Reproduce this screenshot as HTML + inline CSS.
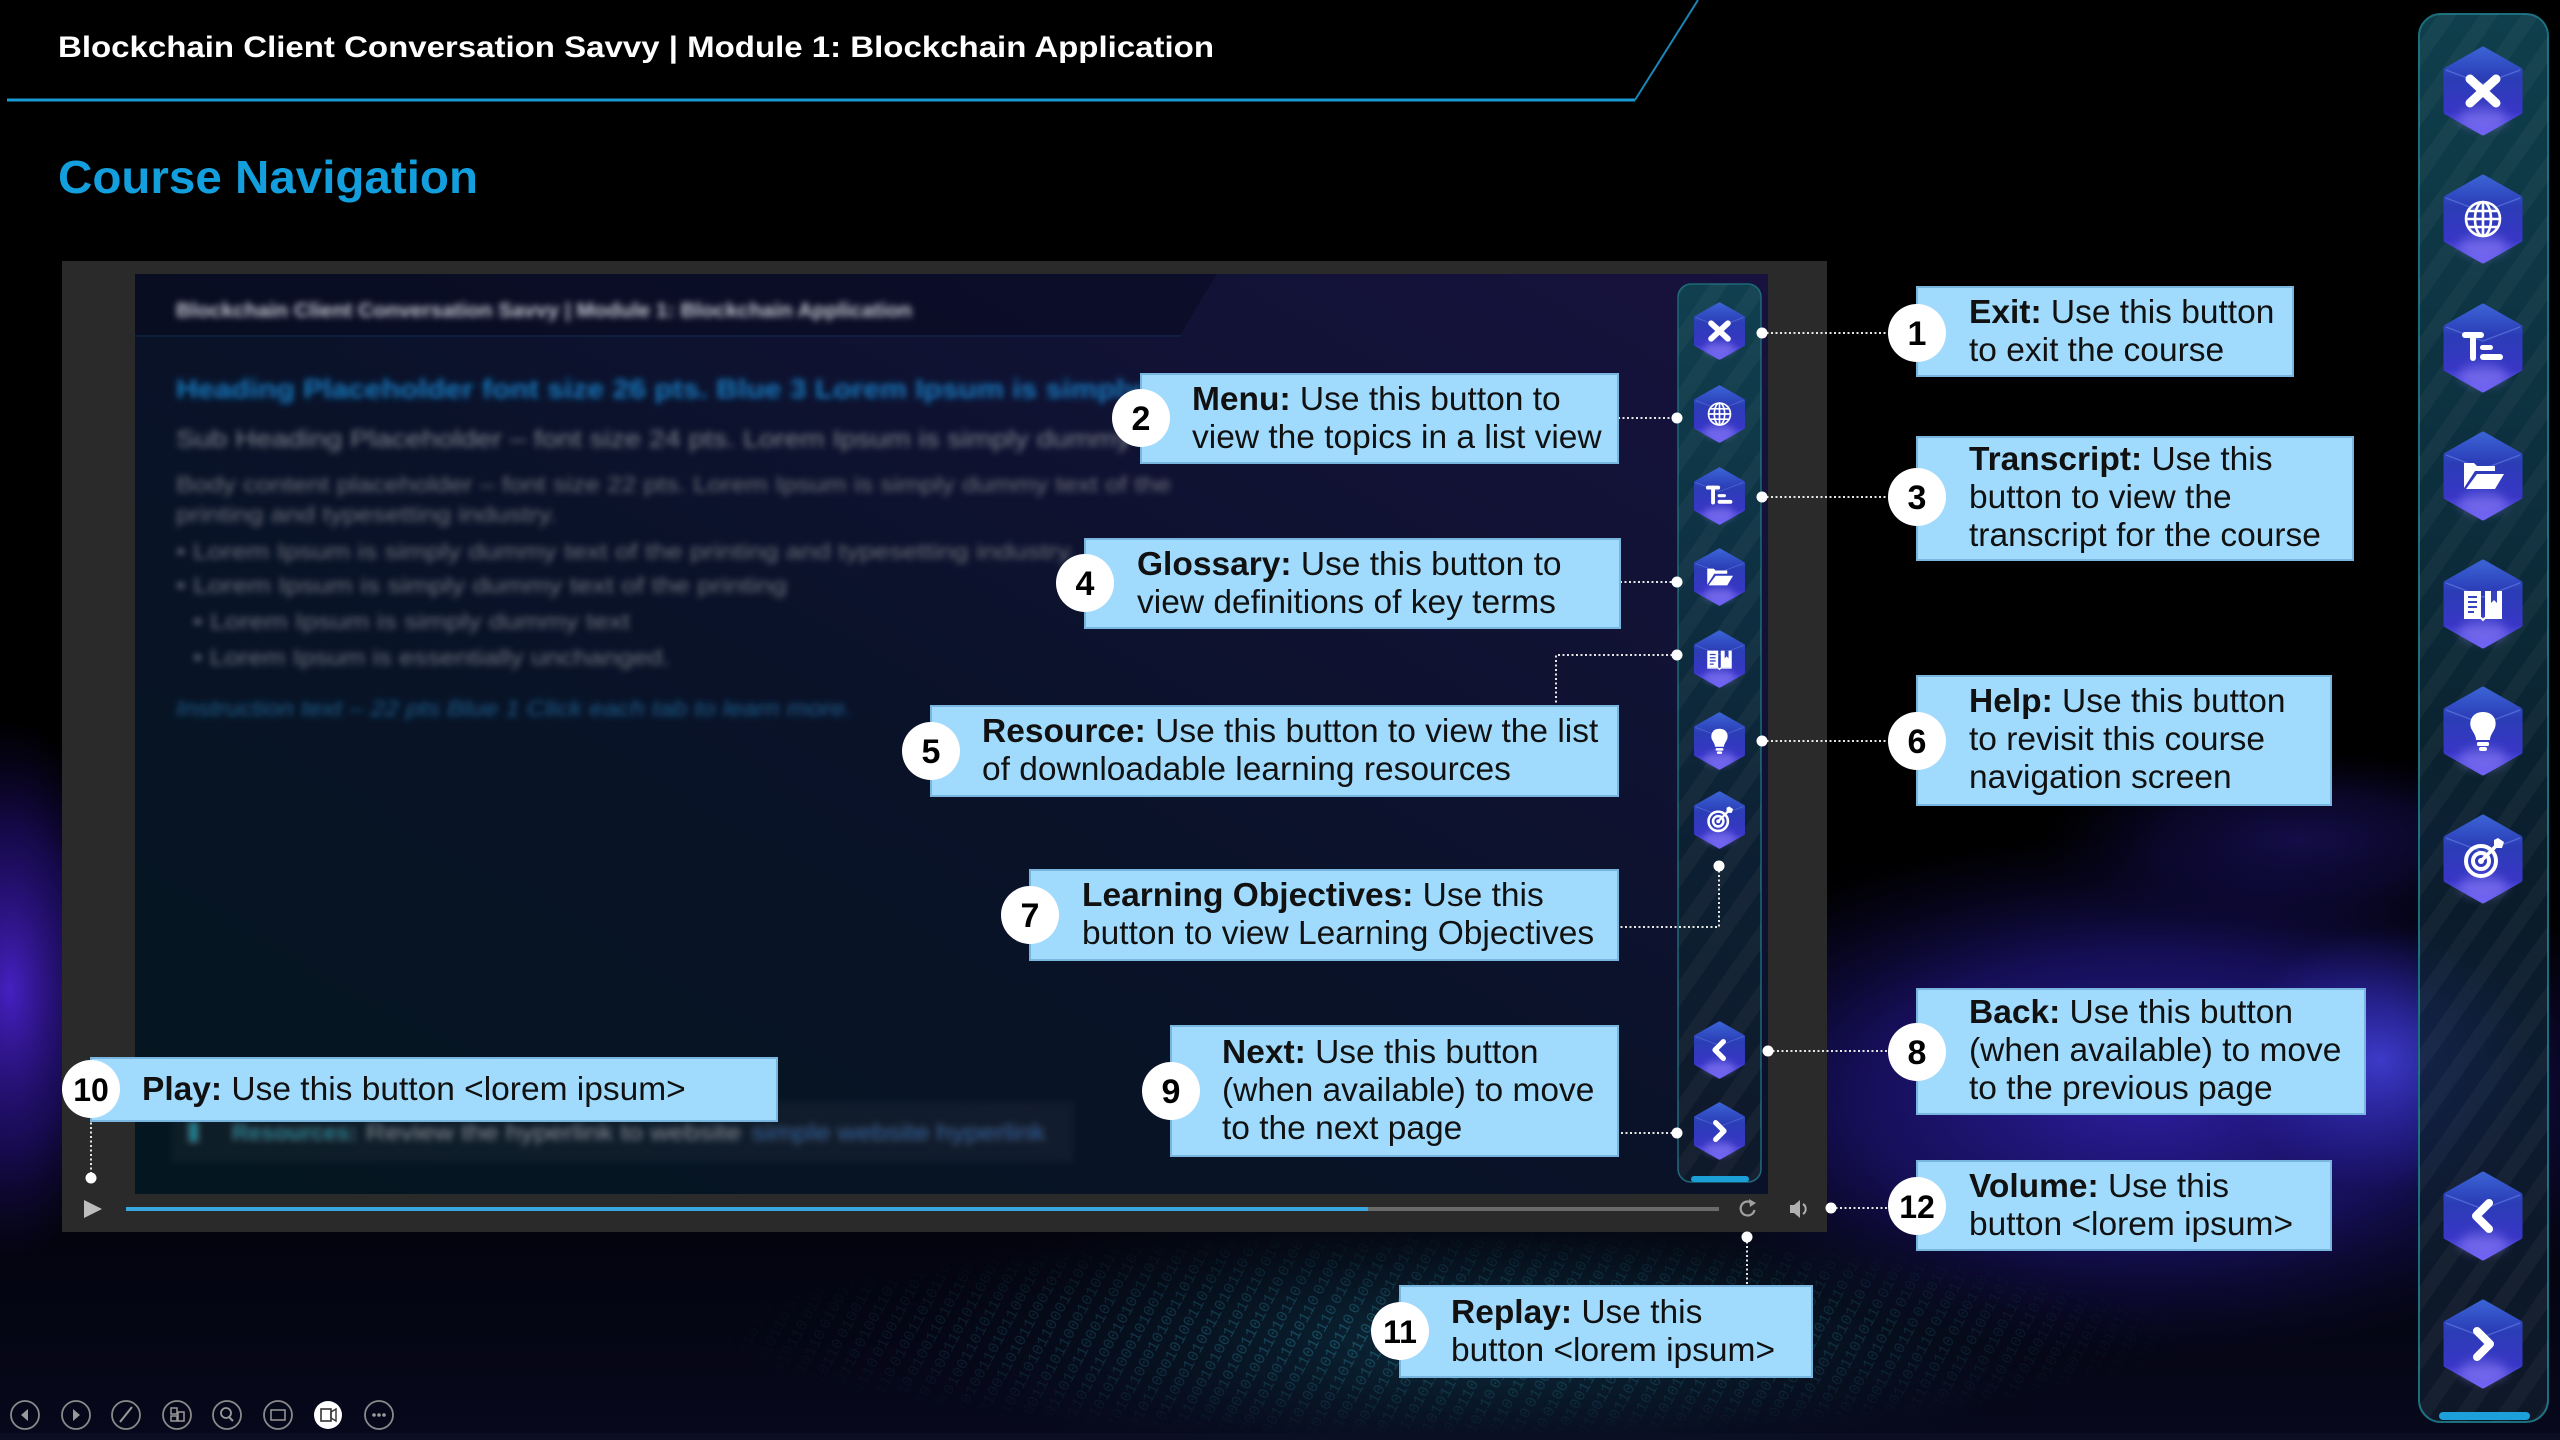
<!DOCTYPE html>
<html><head><meta charset="utf-8"><title>Course Navigation</title>
<style>html,body{margin:0;padding:0;background:#000;width:2560px;height:1440px;overflow:hidden}svg{display:block}</style>
</head><body>
<svg xmlns="http://www.w3.org/2000/svg" xmlns:xlink="http://www.w3.org/1999/xlink" width="2560" height="1440" viewBox="0 0 2560 1440" font-family="'Liberation Sans', Arial, sans-serif">
<defs>
  <linearGradient id="hg" x1="0" y1="0" x2="0" y2="1">
    <stop offset="0" stop-color="#3a62d4"/><stop offset="0.35" stop-color="#2b3db6"/>
    <stop offset="0.75" stop-color="#3836c6"/><stop offset="1" stop-color="#6e60f4"/>
  </linearGradient>
  <linearGradient id="panelG" x1="0" y1="0" x2="0" y2="1">
    <stop offset="0" stop-color="#104250" stop-opacity="0.95"/><stop offset="0.35" stop-color="#0d3242" stop-opacity="0.92"/>
    <stop offset="0.65" stop-color="#0c2232" stop-opacity="0.8"/><stop offset="1" stop-color="#0f1a2a" stop-opacity="0.85"/>
  </linearGradient>
  <linearGradient id="innerG" x1="1" y1="0" x2="0" y2="1">
    <stop offset="0" stop-color="#17123e"/><stop offset="0.5" stop-color="#0a1229"/><stop offset="1" stop-color="#04161f"/>
  </linearGradient>
  <linearGradient id="bgBot" x1="0" y1="0" x2="0" y2="1">
    <stop offset="0" stop-color="#000" stop-opacity="0"/><stop offset="1" stop-color="#07081c"/>
  </linearGradient>
  <radialGradient id="gPurpleL"><stop offset="0" stop-color="#4a22cc" stop-opacity="0.95"/><stop offset="0.6" stop-color="#2a1290" stop-opacity="0.5"/><stop offset="1" stop-color="#1a0a60" stop-opacity="0"/></radialGradient>
  <radialGradient id="gPurpleR"><stop offset="0" stop-color="#2f1fa8" stop-opacity="0.95"/><stop offset="0.55" stop-color="#22178a" stop-opacity="0.6"/><stop offset="1" stop-color="#120c50" stop-opacity="0"/></radialGradient>
  <radialGradient id="gBright"><stop offset="0" stop-color="#4d4cf4" stop-opacity="0.7"/><stop offset="1" stop-color="#3030d0" stop-opacity="0"/></radialGradient>
  <radialGradient id="gTeal"><stop offset="0" stop-color="#0e3446" stop-opacity="0.9"/><stop offset="1" stop-color="#06141e" stop-opacity="0"/></radialGradient>
  <radialGradient id="binFade"><stop offset="0" stop-color="#fff"/><stop offset="1" stop-color="#000"/></radialGradient>
  <mask id="binMask"><rect x="700" y="1232" width="1500" height="208" fill="url(#binFade)"/></mask>
  <pattern id="bin" patternUnits="userSpaceOnUse" width="262" height="20" patternTransform="rotate(-62)">
    <text x="0" y="15" font-size="16" fill="#2a8fa6" font-family="'Liberation Mono', monospace">010011010110001010011010110</text>
  </pattern>
  <pattern id="stripes" patternUnits="userSpaceOnUse" width="34" height="34" patternTransform="rotate(35)">
    <rect width="15" height="34" fill="#ffffff" fill-opacity="0.035"/>
  </pattern>
  <filter id="blur" x="-5%" y="-50%" width="110%" height="200%"><feGaussianBlur stdDeviation="3.3"/></filter>
  <filter id="soft" x="-50%" y="-50%" width="200%" height="200%"><feGaussianBlur stdDeviation="5"/></filter>
  <filter id="glow" x="-5%" y="-500%" width="110%" height="1100%"><feGaussianBlur stdDeviation="4"/></filter>

  <g id="hex">
    <polygon points="0,-42 37,-21 37,21 0,42 -37,21 -37,-21" fill="url(#hg)" stroke="url(#hg)" stroke-width="5" stroke-linejoin="round"/>
    <ellipse cx="0" cy="27" rx="24" ry="11" fill="#9a8cff" opacity="0.45" filter="url(#soft)"/>
    <path d="M-37,-21 L0,-7 L37,-21" stroke="#7a96f4" stroke-width="1.3" fill="none" opacity="0.45"/>
  </g>
  <g id="ic-x"><path d="M-13,-12 L13,12 M13,-12 L-13,12" stroke="#fff" stroke-width="9" stroke-linecap="round"/></g>
  <g id="ic-globe" fill="none" stroke="#fff" stroke-width="2.6">
    <circle r="17"/><ellipse rx="8" ry="17"/><line x1="0" y1="-17" x2="0" y2="17"/><line x1="-17" y1="0" x2="17" y2="0"/>
    <path d="M-14,-8 H14 M-14,8 H14"/>
  </g>
  <g id="ic-tr" fill="#fff">
    <rect x="-21" y="-16" width="22" height="6" rx="3"/><rect x="-13" y="-16" width="6" height="29" rx="3"/>
    <rect x="-3" y="-3" width="13" height="5" rx="2.5"/><rect x="-3" y="6" width="23" height="6" rx="3"/>
  </g>
  <g id="ic-folder" fill="#fff">
    <path d="M-19,-13 H-9 L-6,-10 H12 V-5 H-8 L-19,12 Z"/>
    <path d="M-6,-2 H21 L12,13 H-17 Z"/>
  </g>
  <g id="ic-book">
    <path d="M-19,-13 H-2 V13 H-19 Z M2,-13 H19 V13 H2 Z" fill="#fff"/>
    <path d="M-19,14 H-2 L0,16 L2,14 H19" stroke="#fff" stroke-width="2" fill="none"/>
    <path d="M-15,-7 H-6 M-15,-2 H-6 M-15,3 H-6 M-15,8 H-9" stroke="#3444c0" stroke-width="2"/>
    <path d="M8,-13 V-1 L11,-4 L14,-1 V-13 Z" fill="#3444c0"/>
  </g>
  <g id="ic-bulb" fill="#fff">
    <path d="M0,-19 C-12,-19 -15,-8 -11,-1 C-8,4 -7,6 -7,9 H7 C7,6 8,4 11,-1 C15,-8 12,-19 0,-19 Z"/>
    <rect x="-6" y="11" width="12" height="4" rx="1.5"/><rect x="-4" y="16" width="8" height="4" rx="2"/>
  </g>
  <g id="ic-target">
    <g fill="none" stroke="#fff" stroke-width="4"><circle cx="-2" cy="2" r="15"/><circle cx="-2" cy="2" r="8"/></g>
    <circle cx="-2" cy="2" r="3" fill="#fff"/>
    <path d="M-2,2 L15,-15" stroke="#fff" stroke-width="3.5" stroke-linecap="round"/>
    <path d="M11,-19 L11,-11 L19,-11 L21,-17 L15,-21 Z" fill="#fff"/>
  </g>
  <g id="ic-back"><path d="M6,-13 L-7,0 L6,13" stroke="#fff" stroke-width="8" fill="none" stroke-linecap="round" stroke-linejoin="round"/></g>
  <g id="ic-next"><path d="M-6,-13 L7,0 L-6,13" stroke="#fff" stroke-width="8" fill="none" stroke-linecap="round" stroke-linejoin="round"/></g>
</defs>

<!-- Background -->
<rect width="2560" height="1440" fill="#000"/>
<rect y="700" width="2560" height="740" fill="url(#bgBot)"/>
<ellipse cx="10" cy="990" rx="120" ry="270" fill="url(#gPurpleL)"/>
<ellipse cx="2300" cy="840" rx="260" ry="90" fill="url(#gPurpleR)" opacity="0.45"/>
<ellipse cx="2150" cy="1095" rx="540" ry="260" fill="url(#gPurpleR)"/>
<ellipse cx="2380" cy="1060" rx="150" ry="130" fill="url(#gBright)"/>
<ellipse cx="1500" cy="1340" rx="600" ry="150" fill="url(#gTeal)"/>
<rect x="700" y="1232" width="1500" height="208" fill="url(#bin)" mask="url(#binMask)" opacity="0.5"/>
<rect y="1433" width="2560" height="7" fill="#0a0f24"/>

<!-- Header -->
<line x1="7" y1="100" x2="1635" y2="100" stroke="#0e6a9a" stroke-width="10" opacity="0.45" filter="url(#glow)"/>
<line x1="7" y1="100" x2="1635" y2="100" stroke="#1a9ad2" stroke-width="3"/>
<line x1="1635" y1="100" x2="1698" y2="0" stroke="#1a86b8" stroke-width="2"/>
<text x="58" y="57" font-size="30" font-weight="bold" fill="#fff" textLength="1156" lengthAdjust="spacingAndGlyphs">Blockchain Client Conversation Savvy | Module 1: Blockchain Application</text>
<text x="58" y="193" font-size="46" font-weight="bold" fill="#139fdd" textLength="420" lengthAdjust="spacingAndGlyphs">Course Navigation</text>

<!-- Screenshot frame -->
<rect x="62" y="261" width="1765" height="971" fill="#2a2a2a"/>
<rect x="135" y="274" width="1633" height="920" fill="url(#innerG)"/>
<polygon points="135,274 1217,274 1180,335 135,335" fill="#06081a" opacity="0.45"/>
<line x1="135" y1="336" x2="1180" y2="336" stroke="#12406a" stroke-width="1.5" opacity="0.35"/>

<!-- Blurred inner content -->
<g filter="url(#blur)">
  <text x="176" y="317" font-size="20" font-weight="bold" fill="#c4c6d0" textLength="736" lengthAdjust="spacingAndGlyphs">Blockchain Client Conversation Savvy | Module 1: Blockchain Application</text>
  <text x="176" y="398" font-size="27" font-weight="bold" fill="#1378bd" textLength="965" lengthAdjust="spacingAndGlyphs">Heading Placeholder font size 26 pts. Blue 3 Lorem Ipsum is simply</text>
  <text x="176" y="447" font-size="24" fill="#7d828c" textLength="955" lengthAdjust="spacingAndGlyphs">Sub Heading Placeholder – font size 24 pts. Lorem Ipsum is simply dummy</text>
  <text x="176" y="492" font-size="22" fill="#6b707a" textLength="995" lengthAdjust="spacingAndGlyphs">Body content placeholder – font size 22 pts. Lorem Ipsum is simply dummy text of the</text>
  <text x="176" y="522" font-size="22" fill="#6b707a" textLength="381" lengthAdjust="spacingAndGlyphs">printing and typesetting industry.</text>
  <text x="176" y="559" font-size="22" fill="#6b707a" textLength="900" lengthAdjust="spacingAndGlyphs">• Lorem Ipsum is simply dummy text of the printing and typesetting industry.</text>
  <text x="176" y="593" font-size="22" fill="#6b707a" textLength="611" lengthAdjust="spacingAndGlyphs">• Lorem Ipsum is simply dummy text of the printing</text>
  <text x="193" y="629" font-size="22" fill="#6b707a" textLength="437" lengthAdjust="spacingAndGlyphs">• Lorem Ipsum is simply dummy text</text>
  <text x="193" y="665" font-size="22" fill="#6b707a" textLength="477" lengthAdjust="spacingAndGlyphs">• Lorem Ipsum is essentially unchanged.</text>
  <text x="176" y="716" font-size="22" font-style="italic" fill="#1b5d8c" textLength="676" lengthAdjust="spacingAndGlyphs">Instruction text – 22 pts Blue 1 Click each tab to learn more.</text>
  <rect x="172" y="1102" width="901" height="60" fill="#ffffff" fill-opacity="0.035"/>
  <rect x="189" y="1122" width="9" height="20" fill="#1e8090"/>
  <text x="232" y="1140" font-size="22" font-weight="bold" fill="#1e8090" textLength="125" lengthAdjust="spacingAndGlyphs">Resources:</text>
  <text x="366" y="1140" font-size="22" fill="#868b95" textLength="375" lengthAdjust="spacingAndGlyphs">Review the hyperlink to website</text>
  <text x="752" y="1140" font-size="22" fill="#1e5fa0" textLength="293" lengthAdjust="spacingAndGlyphs">simple website hyperlink</text>
</g>

<!-- Inner nav panel -->
<rect x="1678" y="284" width="83" height="898" rx="13" fill="url(#panelG)" stroke="#1d6878" stroke-width="1.5"/>
<rect x="1678" y="284" width="83" height="898" rx="13" fill="url(#stripes)"/>
<rect x="1691" y="1176" width="58" height="6" rx="3" fill="#1b9fd8"/>
<g transform="translate(1719.5,331) scale(0.645)"><use xlink:href="#hex"/><use xlink:href="#ic-x"/></g>
<g transform="translate(1719.5,414) scale(0.645)"><use xlink:href="#hex"/><use xlink:href="#ic-globe"/></g>
<g transform="translate(1719.5,496) scale(0.645)"><use xlink:href="#hex"/><use xlink:href="#ic-tr"/></g>
<g transform="translate(1719.5,577) scale(0.645)"><use xlink:href="#hex"/><use xlink:href="#ic-folder"/></g>
<g transform="translate(1719.5,659) scale(0.645)"><use xlink:href="#hex"/><use xlink:href="#ic-book"/></g>
<g transform="translate(1719.5,741) scale(0.645)"><use xlink:href="#hex"/><use xlink:href="#ic-bulb"/></g>
<g transform="translate(1719.5,820) scale(0.645)"><use xlink:href="#hex"/><use xlink:href="#ic-target"/></g>
<g transform="translate(1719.5,1050) scale(0.645)"><use xlink:href="#hex"/><use xlink:href="#ic-back"/></g>
<g transform="translate(1719.5,1131) scale(0.645)"><use xlink:href="#hex"/><use xlink:href="#ic-next"/></g>

<!-- Control bar -->
<polygon points="84,1200 102,1209 84,1218" fill="#bdbdbd"/>
<rect x="126" y="1207" width="1593" height="4" fill="#6a6a6a"/>
<rect x="126" y="1207" width="1242" height="4" fill="#3aa8e0"/>
<path d="M1752,1203 A7,7 0 1 0 1754.5,1210" stroke="#a0a0a0" stroke-width="2.2" fill="none"/>
<polygon points="1749,1199 1756,1203 1750,1207" fill="#a0a0a0"/>
<path d="M1790,1205 h4 l6,-5 v18 l-6,-5 h-4 z" fill="#b0b0b0"/>
<path d="M1803,1204 a6,6 0 0 1 0,10" stroke="#b0b0b0" stroke-width="2" fill="none"/>

<!-- Outer right panel -->
<rect x="2419" y="14" width="129" height="1408" rx="22" fill="url(#panelG)" stroke="#1b6f7d" stroke-width="2"/>
<rect x="2419" y="14" width="129" height="1408" rx="22" fill="url(#stripes)"/>
<rect x="2439" y="1412" width="91" height="8" rx="4" fill="#1ba0da"/>
<g transform="translate(2483,91)"><use xlink:href="#hex"/><use xlink:href="#ic-x"/></g>
<g transform="translate(2483,219)"><use xlink:href="#hex"/><use xlink:href="#ic-globe"/></g>
<g transform="translate(2483,348)"><use xlink:href="#hex"/><use xlink:href="#ic-tr"/></g>
<g transform="translate(2483,476)"><use xlink:href="#hex"/><use xlink:href="#ic-folder"/></g>
<g transform="translate(2483,604)"><use xlink:href="#hex"/><use xlink:href="#ic-book"/></g>
<g transform="translate(2483,731)"><use xlink:href="#hex"/><use xlink:href="#ic-bulb"/></g>
<g transform="translate(2483,859)"><use xlink:href="#hex"/><use xlink:href="#ic-target"/></g>
<g transform="translate(2483,1216)"><use xlink:href="#hex"/><use xlink:href="#ic-back"/></g>
<g transform="translate(2483,1344)"><use xlink:href="#hex"/><use xlink:href="#ic-next"/></g>

<!-- Bottom toolbar -->
<g fill="none" stroke="#8a8a8a" stroke-width="1.8">
  <circle cx="25" cy="1415" r="14"/><circle cx="76" cy="1415" r="14"/><circle cx="126" cy="1415" r="14"/>
  <circle cx="177" cy="1415" r="14"/><circle cx="227" cy="1415" r="14"/><circle cx="278" cy="1415" r="14"/>
  <circle cx="379" cy="1415" r="14"/>
</g>
<circle cx="328" cy="1415" r="14" fill="#fff"/>
<polygon points="28,1409 21,1415 28,1421" fill="#9a9a9a"/>
<polygon points="73,1409 80,1415 73,1421" fill="#9a9a9a"/>
<line x1="120" y1="1422" x2="132" y2="1407" stroke="#9a9a9a" stroke-width="2"/>
<g fill="none" stroke="#9a9a9a" stroke-width="1.5"><rect x="171" y="1408" width="6" height="6"/><rect x="178" y="1412" width="6" height="9"/><rect x="171" y="1416" width="6" height="5"/></g>
<circle cx="226" cy="1413" r="5" fill="none" stroke="#9a9a9a" stroke-width="1.8"/><line x1="229" y1="1417" x2="233" y2="1421" stroke="#9a9a9a" stroke-width="2"/>
<rect x="271" y="1410" width="14" height="10" fill="none" stroke="#9a9a9a" stroke-width="1.5"/>
<rect x="321" y="1409" width="10" height="12" fill="none" stroke="#333" stroke-width="1.6"/><polygon points="331,1412 336,1409 336,1421 331,1418" fill="none" stroke="#333" stroke-width="1.4"/>
<g fill="#9a9a9a"><circle cx="374" cy="1415" r="1.8"/><circle cx="379" cy="1415" r="1.8"/><circle cx="384" cy="1415" r="1.8"/></g>

<!-- Connectors -->
<g stroke="#e6e6e6" stroke-width="2" stroke-dasharray="2 2.5" fill="none">
  <path d="M1762,333 H1888"/>
  <path d="M1618,418 H1677"/>
  <path d="M1762,497 H1888"/>
  <path d="M1620,582 H1677"/>
  <path d="M1677,655 H1556 V706"/>
  <path d="M1762,741 H1888"/>
  <path d="M1719,866 V927 H1618"/>
  <path d="M1768,1051 H1888"/>
  <path d="M1677,1133 H1618"/>
  <path d="M91,1118 V1178"/>
  <path d="M1747,1237 V1286"/>
  <path d="M1831,1208 H1888"/>
</g>
<g fill="#fff">
  <circle cx="1762" cy="333" r="5.5"/><circle cx="1677" cy="418" r="5.5"/><circle cx="1762" cy="497" r="5.5"/>
  <circle cx="1677" cy="582" r="5.5"/><circle cx="1677" cy="655" r="5.5"/><circle cx="1762" cy="741" r="5.5"/>
  <circle cx="1719" cy="866" r="5.5"/><circle cx="1768" cy="1051" r="5.5"/><circle cx="1677" cy="1133" r="5.5"/>
  <circle cx="91" cy="1178" r="5.5"/><circle cx="1747" cy="1237" r="5.5"/><circle cx="1831" cy="1208" r="5.5"/>
</g>

<!-- Callout boxes -->
<g fill="#a0dbfd" stroke="#78b6e0" stroke-width="2">
  <rect x="1917" y="287" width="376" height="89"/>
  <rect x="1141" y="374" width="477" height="89"/>
  <rect x="1917" y="437" width="436" height="123"/>
  <rect x="1085" y="539" width="535" height="89"/>
  <rect x="931" y="706" width="687" height="90"/>
  <rect x="1917" y="676" width="414" height="129"/>
  <rect x="1030" y="870" width="588" height="90"/>
  <rect x="1917" y="989" width="448" height="125"/>
  <rect x="1171" y="1026" width="447" height="130"/>
  <rect x="91" y="1058" width="686" height="63"/>
  <rect x="1400" y="1286" width="412" height="91"/>
  <rect x="1917" y="1161" width="414" height="89"/>
</g>

<!-- Callout texts -->
<g font-size="33.5" fill="#111">
  <text><tspan x="1969" y="323"><tspan font-weight="bold">Exit:</tspan> Use this button</tspan><tspan x="1969" y="361">to exit the course</tspan></text>
  <text><tspan x="1192" y="410"><tspan font-weight="bold">Menu:</tspan> Use this button to</tspan><tspan x="1192" y="448">view the topics in a list view</tspan></text>
  <text><tspan x="1969" y="470"><tspan font-weight="bold">Transcript:</tspan> Use this</tspan><tspan x="1969" y="508">button to view the</tspan><tspan x="1969" y="546">transcript for the course</tspan></text>
  <text><tspan x="1137" y="575"><tspan font-weight="bold">Glossary:</tspan> Use this button to</tspan><tspan x="1137" y="613">view definitions of key terms</tspan></text>
  <text><tspan x="982" y="742"><tspan font-weight="bold">Resource:</tspan> Use this button to view the list</tspan><tspan x="982" y="780">of downloadable learning resources</tspan></text>
  <text><tspan x="1969" y="712"><tspan font-weight="bold">Help:</tspan> Use this button</tspan><tspan x="1969" y="750">to revisit this course</tspan><tspan x="1969" y="788">navigation screen</tspan></text>
  <text><tspan x="1082" y="906"><tspan font-weight="bold">Learning Objectives:</tspan> Use this</tspan><tspan x="1082" y="944">button to view Learning Objectives</tspan></text>
  <text><tspan x="1969" y="1023"><tspan font-weight="bold">Back:</tspan> Use this button</tspan><tspan x="1969" y="1061">(when available) to move</tspan><tspan x="1969" y="1099">to the previous page</tspan></text>
  <text><tspan x="1222" y="1063"><tspan font-weight="bold">Next:</tspan> Use this button</tspan><tspan x="1222" y="1101">(when available) to move</tspan><tspan x="1222" y="1139">to the next page</tspan></text>
  <text><tspan x="142" y="1100"><tspan font-weight="bold">Play:</tspan> Use this button &lt;lorem ipsum&gt;</tspan></text>
  <text><tspan x="1451" y="1323"><tspan font-weight="bold">Replay:</tspan> Use this</tspan><tspan x="1451" y="1361">button &lt;lorem ipsum&gt;</tspan></text>
  <text><tspan x="1969" y="1197"><tspan font-weight="bold">Volume:</tspan> Use this</tspan><tspan x="1969" y="1235">button &lt;lorem ipsum&gt;</tspan></text>
</g>

<!-- Number circles -->
<g fill="#fff">
  <circle cx="1917" cy="333" r="29"/><circle cx="1141" cy="418" r="29"/><circle cx="1917" cy="497" r="29"/>
  <circle cx="1085" cy="583" r="29"/><circle cx="931" cy="751" r="29"/><circle cx="1917" cy="741" r="29"/>
  <circle cx="1030" cy="915" r="29"/><circle cx="1917" cy="1052" r="29"/><circle cx="1171" cy="1091" r="29"/>
  <circle cx="91" cy="1089" r="29"/><circle cx="1400" cy="1331" r="29"/><circle cx="1917" cy="1206" r="29"/>
</g>
<g font-weight="bold" fill="#000" text-anchor="middle" font-size="34">
  <text x="1917" y="345">1</text><text x="1141" y="430">2</text><text x="1917" y="509">3</text>
  <text x="1085" y="595">4</text><text x="931" y="763">5</text><text x="1917" y="753">6</text>
  <text x="1030" y="927">7</text><text x="1917" y="1064">8</text><text x="1171" y="1103">9</text>
  <text x="91" y="1101" font-size="32">10</text><text x="1400" y="1343" font-size="32">11</text><text x="1917" y="1218" font-size="32">12</text>
</g>
</svg>
</body></html>
